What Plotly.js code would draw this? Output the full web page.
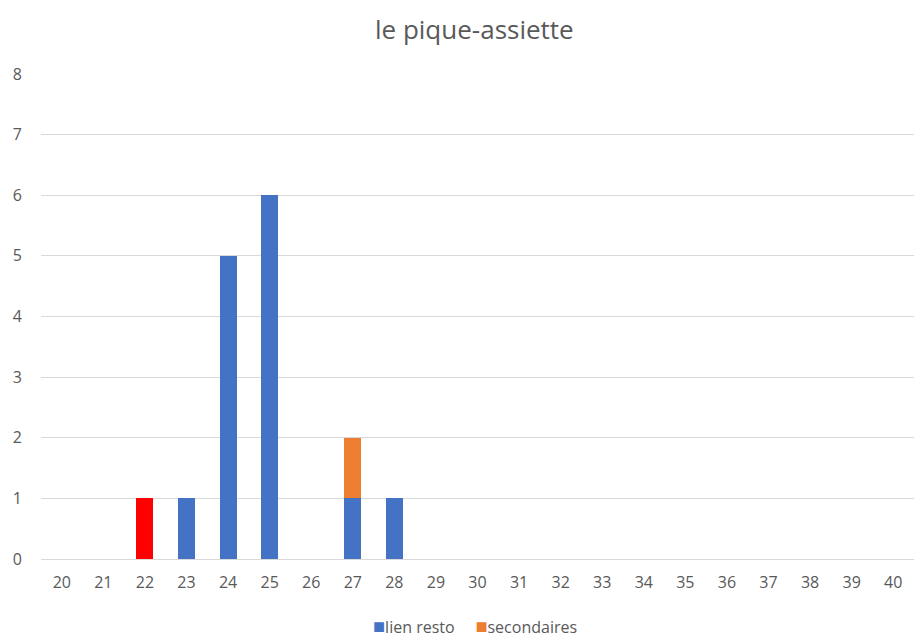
<!DOCTYPE html>
<html>
<head>
<meta charset="utf-8">
<script src="https://cdn.plot.ly/plotly-3.0.1.min.js"></script>
<style>html,body{margin:0;padding:0;background:#fff;}#chart{width:914px;height:641px;}</style>
</head>
<body>
<div id="chart"></div>
<script>
const categories = ["20","21","22","23","24","25","26","27","28","29","30","31","32","33","34","35","36","37","38","39","40"];
const lienResto = [0,0,1,1,5,6,0,1,1,0,0,0,0,0,0,0,0,0,0,0,0];
const secondaires = [0,0,0,0,0,0,0,1,0,0,0,0,0,0,0,0,0,0,0,0,0];
const lienRestoColors = ["#4472C4","#4472C4","#FF0000","#4472C4","#4472C4","#4472C4","#4472C4","#4472C4","#4472C4","#4472C4","#4472C4","#4472C4","#4472C4","#4472C4","#4472C4","#4472C4","#4472C4","#4472C4","#4472C4","#4472C4","#4472C4"];
const yTicks = [0,1,2,3,4,5,6,7,8];
const seriesNames = ["lien resto","secondaires"];
const seriesColors = ["#4472C4","#ED7D31"];

const font = "'Open Sans', sans-serif";
const traces = [
  {type:"bar", name:seriesNames[0], x:categories, y:lienResto,
   marker:{color:lienRestoColors, line:{width:0}}, width:0.41, showlegend:false},
  {type:"bar", name:seriesNames[1], x:categories, y:secondaires,
   marker:{color:seriesColors[1], line:{width:0}}, width:0.41, showlegend:false}
];
const legendText = seriesNames.map((n,i)=>"<span style='color:"+seriesColors[i]+";font-size:20px'>■</span>"+n).join("     ");
const layout = {
  width:914, height:641,
  margin:{l:41, r:0, t:74, b:82},
  barmode:"stack",
  paper_bgcolor:"#fff", plot_bgcolor:"#fff",
  font:{family:font, color:"#595959", size:16},
  title:{text:"le pique-assiette", font:{family:font, size:26, color:"#595959"}, x:0.519, xanchor:"center", y:0.953, yanchor:"middle"},
  xaxis:{type:"category", tickvals:categories, ticktext:categories, showgrid:false, showline:false, zeroline:false, ticks:"", ticklen:0, tickfont:{size:16, color:"#595959"}, range:[-0.5, 20.5], ticklabelstandoff:12},
  yaxis:{range:[0,8], tickvals:yTicks, showgrid:true, gridcolor:"#D9D9D9", gridwidth:1, zeroline:true, zerolinecolor:"#D9D9D9", zerolinewidth:1, showline:false, ticks:"", tickfont:{size:16, color:"#595959"}, ticklabelstandoff:18},
  showlegend:false,
  annotations:[{text:legendText, xref:"paper", yref:"paper", x:0.497, y:-0.137, xanchor:"center", yanchor:"middle", showarrow:false, font:{size:16, color:"#595959", family:font}}]
};
Plotly.newPlot("chart", traces, layout, {displayModeBar:false, staticPlot:true});
</script>
</body>
</html>
